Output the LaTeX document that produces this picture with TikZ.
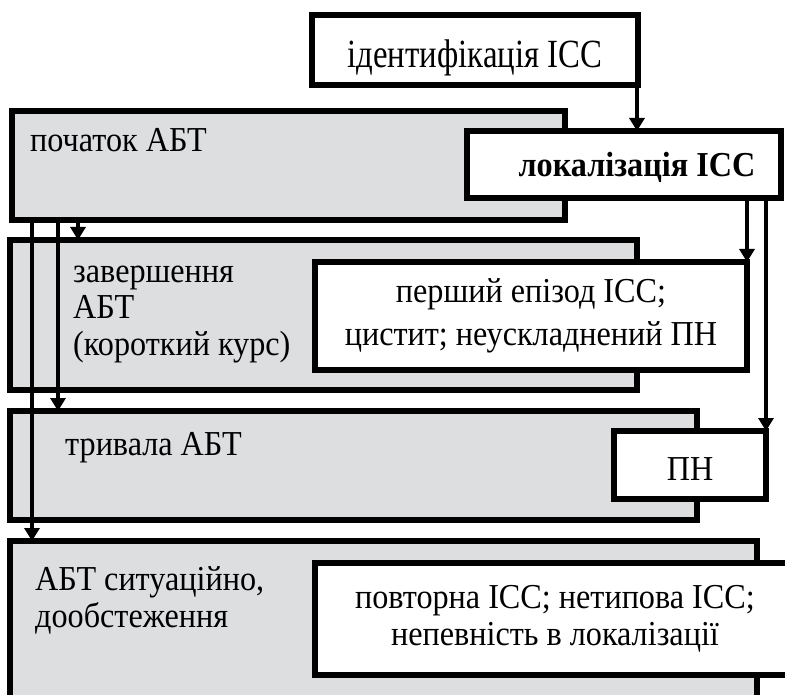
\documentclass[tikz,border=0pt]{standalone}
\usepackage{fontspec}
\setmainfont[FakeStretch=0.92]{Liberation Serif}
\newfontfamily\identfont[FakeStretch=0.82]{Liberation Serif}
\usetikzlibrary{arrows.meta,positioning}
\definecolor{boxgray}{RGB}{221,222,224}

\begin{document}
\begin{tikzpicture}[
    x=1pt, y=-1pt,
    font=\fontsize{35}{36}\selectfont,
    graybox/.style={draw, fill=boxgray, line width=5.5pt, anchor=north west, inner sep=0pt, outer sep=0pt},
    whitebox/.style={draw, fill=white, line width=5.5pt, anchor=north west, inner sep=0pt, outer sep=0pt, align=center},
    tag/.style={anchor=base west, inner sep=0pt, align=left},
    arrow/.style={-{Triangle[length=13pt,width=15pt]}, line width=3.2pt}
]
\useasboundingbox (0,0) rectangle (785,695);
\clip (0,0) rectangle (785,695);

% gray stages
\node[graybox, minimum width=553pt, minimum height=109pt] (start) at (12,111) {};
\node[graybox, minimum width=627pt, minimum height=150pt] (finish) at (10,240) {};
\node[graybox, minimum width=687pt, minimum height=109pt] (long) at (10,411) {};
\node[graybox, minimum width=747pt, minimum height=170pt] (sit) at (10,541) {};

% labels of the gray stages (base = last line)
\node[tag] (startlbl) at (30,152) {початок АБТ};
\node[tag] (finishlbl) at (73,355) {завершення\\[0.5pt]АБТ\\[0.5pt](короткий курс)};
\node[tag] (longlbl) at (65,455) {тривала АБТ};
\node[tag] (sitlbl) at (35,627) {АБТ ситуаційно,\\[1pt]дообстеження};

% white boxes
\node[whitebox, minimum width=326pt, minimum height=70pt, text height=36pt, text depth=0pt,
      font=\fontsize{40}{44}\identfont] (ident) at (312,15) {ідентифікація ІСС};
\node[whitebox, minimum width=314pt, minimum height=67pt, text height=25pt, text depth=0pt] (locz) at (467,131) {\bfseries\hspace*{26pt}локалізація ІСС};
\node[whitebox, minimum width=432pt, minimum height=108pt] (first) at (315,262) {перший епізод ІСС;\\[7pt]цистит; неускладнений ПН};
\node[whitebox, minimum width=152pt, minimum height=68pt, text height=30pt, text depth=0pt] (pn) at (614,431) {ПН};
\node[whitebox, minimum width=480pt, minimum height=112pt] (rep) at (315,563) {повторна ІСС; нетипова ІСС;\\[1pt]непевність в локалізації};

% connectors
\draw[arrow] ([xshift=-1pt]ident.south east) -- ([xshift=-1pt]ident.south east |- locz.north);
\draw[arrow] (first.north east |- locz.south) -- (first.north east);
\draw[arrow] (pn.north east |- locz.south) -- (pn.north east);
\draw[arrow] ([xshift=66pt]start.south west) -- ([xshift=66pt]start.south west |- finish.north);
\draw[arrow] ([xshift=46pt]start.south west) -- ([xshift=46pt]start.south west |- long.north);
\draw[arrow] ([xshift=20pt]start.south west) -- ([xshift=20pt]start.south west |- sit.north);
\end{tikzpicture}
\end{document}
